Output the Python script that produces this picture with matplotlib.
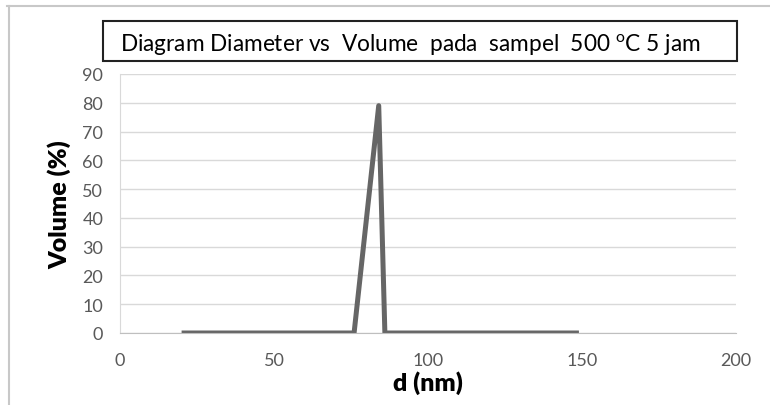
import matplotlib.pyplot as plt
from matplotlib.patches import Rectangle
from matplotlib.lines import Line2D

# data
diameter = [20, 76, 84, 86, 149]
volume = [0, 0, 79, 0, 0]
x_ticks = [0, 50, 100, 150, 200]
y_ticks = [0, 10, 20, 30, 40, 50, 60, 70, 80, 90]

plt.rcParams['font.family'] = ['Lato', 'DejaVu Sans']
plt.rcParams['mathtext.fontset'] = 'custom'
plt.rcParams['mathtext.rm'] = 'Lato'

W, H = 770, 406
fig = plt.figure(figsize=(7.7, 4.06), dpi=100)
ax = fig.add_axes([120 / W, 1 - 334 / H, 616 / W, 259 / H])

ax.plot(diameter, volume, color='#666666', linewidth=3.6, solid_joinstyle='round',
        solid_capstyle='butt')

ax.set_xlim(0, 200)
ax.set_ylim(0, 90)
ax.set_xticks(x_ticks)
ax.set_yticks(y_ticks)
ax.tick_params(length=0, labelsize=13, labelcolor='#595959')
ax.tick_params(axis='y', pad=12)
ax.tick_params(axis='x', pad=14)
ax.yaxis.grid(True, color='#d9d9d9', linewidth=1)
ax.set_axisbelow(True)
for s in ['top', 'right']:
    ax.spines[s].set_visible(False)
ax.spines['left'].set_color('#d9d9d9')
ax.spines['bottom'].set_color('#bfbfbf')

ax.set_xlabel('d (nm)', fontsize=18, fontweight='heavy', labelpad=1)
ax.set_ylabel('Volume (%)', fontsize=18, fontweight='heavy', labelpad=8)

# title box
fig.patches.append(Rectangle((103 / W, 1 - 62 / H), 634 / W, 40 / H,
                             transform=fig.transFigure, fill=False,
                             edgecolor='#222222', linewidth=1.5))
fig.text(120 / W, 1 - 45 / H,
         'Diagram Diameter vs  Volume  pada  sampel  500 $^{\\mathrm{o}}$C 5 jam',
         fontsize=16.3, va='center', ha='left', color='black')

# outer frame
fig.add_artist(Line2D([7 / W, 1], [1 - 7 / H, 1 - 7 / H], color='#c8c8c8', linewidth=1.5))
fig.add_artist(Line2D([9 / W, 9 / W], [0, 1 - 7 / H], color='#c8c8c8', linewidth=1.5))

fig.savefig('out.png', dpi=100)
